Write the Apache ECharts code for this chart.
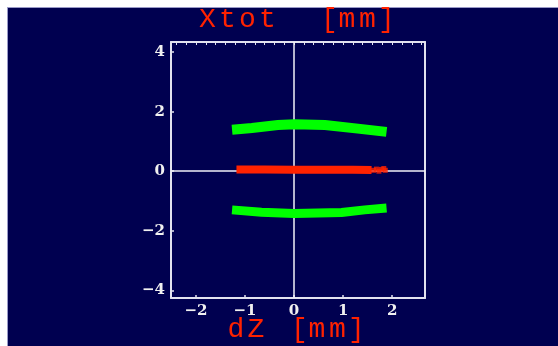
<!DOCTYPE html>
<html>
<head>
<meta charset="utf-8">
<script src="https://cdn.jsdelivr.net/npm/echarts@6/dist/echarts.min.js"></script>
<style>
html,body{margin:0;padding:0;background:#ffffff;}
#bg{position:absolute;left:7px;top:7px;width:551px;height:339px;box-sizing:border-box;background:#000050;border-top:1px solid #9a9ac8;border-left:1px solid #9a9ac8;}
#chart{position:absolute;left:0;top:0;width:558px;height:346px;}
</style>
</head>
<body>
<div id="bg"></div>
<div id="chart"></div>
<script>
// ---- data ----
const titleChars = ['X', 't', 'o', 't', '[', 'm', 'm', ']'];
const xAxisChars = ['d', 'Z', '[', 'm', 'm', ']'];
const xTickValues = [-2, -1, 0, 1, 2];
const xTopMinorTicks = [-2.4, -2.2, -2.0, -1.8, -1.6, -1.4, -1.2, -1.0, -0.8, -0.6, -0.4, -0.2, 0, 0.2, 0.4, 0.6, 0.8, 1.0, 1.2, 1.4, 1.6, 1.8, 2.0, 2.2, 2.4, 2.6];
const yTickValues = [-4, -2, 0, 2, 4];
const xRange = [-2.51, 2.67];
const yRange = [-4.26, 4.34];

const upperGreenX = [-1.265, -0.86, -0.33, 0.01, 0.63, 1.30, 1.886];
const upperGreenY = [1.39, 1.45, 1.55, 1.58, 1.55, 1.43, 1.32];
const lowerGreenX = [-1.265, -0.665, 0.0, 0.97, 1.44, 1.886];
const lowerGreenY = [-1.30, -1.38, -1.42, -1.39, -1.30, -1.24];
const redBandX = [-1.175, -0.6, 0.0, 0.6, 1.2, 1.58];
const redBandY = [0.06, 0.06, 0.05, 0.05, 0.05, 0.04];
const redTailX = [1.62, 1.68, 1.73, 1.78, 1.83, 1.86];
const redTailY = [0.03, 0.07, 0.00, 0.06, 0.09, 0.03];

// layout (pixel centres of the monospace title glyphs)
const titleCharX = [207.5, 227.5, 247.5, 267.5, 329.5, 347, 367.5, 386.5];
const xAxisCharX = [236, 256, 299.5, 317, 337.5, 356.5];

const zip = (xs, ys) => xs.map((x, i) => [x, ys[i]]);
const minus = v => String(v).replace('-', '\u2212');

const frameColor = '#e2e2ee';
const textRed = '#ff2200';
const labelStyle = {color: '#f0f0f0', fontFamily: 'DejaVu Serif', fontSize: 15, fontWeight: 'bold'};

const charGraphic = (chars, xs, y) => chars.map((c, i) => ({
  type: 'text', x: xs[i], y: y,
  style: {text: c, fill: textRed, font: '28px "Liberation Mono"', align: 'center', verticalAlign: 'middle'}
}));

const chart = echarts.init(document.getElementById('chart'), null, {renderer: 'canvas'});
chart.setOption({
  backgroundColor: 'transparent',
  animation: false,
  grid: {left: 171, top: 42, right: 133, bottom: 48, containLabel: false},
  graphic: [].concat(charGraphic(titleChars, titleCharX, 19.5), charGraphic(xAxisChars, xAxisCharX, 329.5)),
  xAxis: [
    {type: 'value', position: 'bottom', min: xRange[0], max: xRange[1],
     axisLine: {show: true, onZero: false, lineStyle: {color: frameColor, width: 2}},
     axisTick: {show: true, inside: true, length: 3, customValues: xTickValues, lineStyle: {color: frameColor, width: 1.5}},
     axisLabel: {show: true, margin: 6, customValues: xTickValues, formatter: minus, ...labelStyle},
     splitLine: {show: false}},
    {type: 'value', position: 'top', min: xRange[0], max: xRange[1],
     axisLine: {show: true, onZero: false, lineStyle: {color: frameColor, width: 2}},
     axisTick: {show: true, inside: true, length: 3, customValues: xTopMinorTicks, lineStyle: {color: frameColor, width: 1}},
     axisLabel: {show: false},
     splitLine: {show: false}}
  ],
  yAxis: [
    {type: 'value', position: 'left', min: yRange[0], max: yRange[1],
     axisLine: {show: true, onZero: false, lineStyle: {color: frameColor, width: 2}},
     axisTick: {show: true, inside: true, length: 3, customValues: yTickValues, lineStyle: {color: frameColor, width: 1.5}},
     axisLabel: {show: true, margin: 6, customValues: yTickValues, formatter: minus, ...labelStyle},
     splitLine: {show: false}},
    {type: 'value', position: 'right', min: yRange[0], max: yRange[1],
     axisLine: {show: true, onZero: false, lineStyle: {color: frameColor, width: 2}},
     axisTick: {show: false}, axisLabel: {show: false}, splitLine: {show: false}}
  ],
  series: [
    {type: 'line', data: [], z: 1, silent: true,
     markLine: {silent: true, z: 1, symbol: ['none', 'none'], label: {show: false},
       lineStyle: {color: '#f0f0f8', width: 1.5, type: 'solid'},
       data: [{xAxis: 0}, {yAxis: 0}]}},
    {type: 'line', name: 'upper', data: zip(upperGreenX, upperGreenY), z: 10, symbol: 'none', smooth: false,
     lineStyle: {color: '#00ff00', width: 10, cap: 'butt', join: 'miter'}},
    {type: 'line', name: 'lower', data: zip(lowerGreenX, lowerGreenY), z: 10, symbol: 'none', smooth: false,
     lineStyle: {color: '#00ff00', width: 9, cap: 'butt', join: 'miter'}},
    {type: 'line', name: 'red', data: zip(redBandX, redBandY), z: 11, symbol: 'none', smooth: false,
     lineStyle: {color: '#ff2200', width: 8, cap: 'butt', join: 'miter'}},
    {type: 'scatter', name: 'redTail', data: zip(redTailX, redTailY), z: 11, symbol: 'rect', symbolSize: 5,
     itemStyle: {color: '#ff2200'}}
  ]
});
</script>
</body>
</html>
